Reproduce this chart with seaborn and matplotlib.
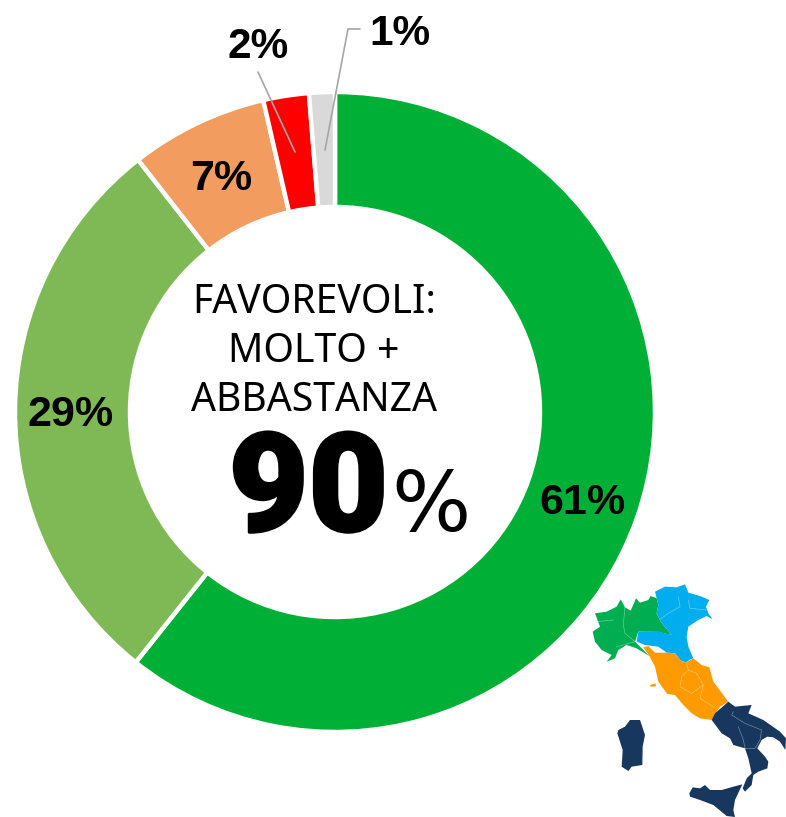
import matplotlib
matplotlib.use("Agg")
import matplotlib.pyplot as plt
import matplotlib.patheffects as pe
import numpy as np
import pandas as pd
import seaborn as sns

answers = ["Molto", "Abbastanza", "Poco", "Per niente", "Non sa"]
shares = [60.7, 28.75, 6.95, 2.3, 1.3]
labels = ["61%", "29%", "7%", "2%", "1%"]
slice_colors = ["#00B036", "#7FB956", "#F29C60", "#FF0000", "#D9D9D9"]

title_lines = ["FAVOREVOLI:", "MOLTO +", "ABBASTANZA"]
total_label = "90"

# map outlines, in pixels of the map box (3x)
nord_ovest = [(45, 130), (80, 125), (110, 110), (122, 88), (135, 112), (152, 122), (168, 85), (180, 98), (205, 90),
              (212, 78), (230, 85), (235, 105), (230, 130), (242, 155), (275, 195), (230, 185), (175, 185), (165, 215),
              (185, 235), (208, 258), (170, 235), (140, 225), (115, 240), (105, 265), (80, 275), (95, 255), (65, 240),
              (45, 215), (38, 185), (60, 170)]
nord_est = [(225, 65), (255, 50), (290, 52), (315, 43), (325, 68), (360, 78), (388, 90), (378, 110), (385, 130),
            (398, 148), (380, 138), (355, 150), (325, 170), (320, 200), (325, 230), (340, 265), (328, 270), (318, 278),
            (300, 270), (285, 250), (260, 248), (235, 230), (195, 225), (170, 215), (175, 185), (230, 183), (275, 195),
            (242, 155), (230, 130), (235, 105)]
centro = [(190, 232), (205, 228), (225, 248), (260, 248), (285, 250), (300, 270), (318, 278), (340, 265), (365, 285),
          (388, 292), (400, 335), (430, 375), (445, 395), (420, 410), (395, 450), (360, 445), (335, 430), (310, 405),
          (285, 375), (262, 372), (235, 335), (225, 290), (208, 258)]
elba = [(210, 345), (226, 340), (228, 349), (212, 350)]
sud = [(445, 395), (465, 410), (515, 405), (505, 430), (550, 450), (600, 485), (618, 505), (616, 540), (600, 515),
       (580, 502), (562, 500), (545, 510), (532, 535), (555, 560), (565, 575), (562, 595), (535, 605), (520, 615),
       (515, 645), (495, 665), (488, 655), (500, 625), (515, 610), (505, 565), (495, 535), (460, 525), (450, 505),
       (425, 490), (395, 450), (405, 430)]
sardegna = [(115, 480), (135, 470), (150, 450), (180, 450), (195, 495), (188, 530), (187, 585), (155, 590), (145, 603),
            (125, 590), (128, 540), (112, 490)]
sicilia = [(328, 670), (338, 652), (360, 655), (375, 645), (390, 660), (425, 660), (460, 650), (487, 643), (465, 690),
           (460, 720), (465, 741), (440, 738), (400, 705), (360, 690), (330, 680)]
map_areas = [(nord_ovest, "#00AD50"), (nord_est, "#00AEEF"), (centro, "#FF9B00"), (elba, "#FF9B00"),
             (sud, "#17375E"), (sardegna, "#17375E"), (sicilia, "#17375E")]
borders = [[(50, 155), (100, 150)], [(135, 110), (130, 165), (135, 190), (165, 215)], [(110, 230), (165, 215)],
           [(295, 80), (300, 110), (265, 130), (240, 148)], [(325, 90), (330, 115), (380, 120)],
           [(320, 280), (325, 300), (305, 320), (300, 350), (335, 370), (370, 345), (350, 310), (325, 300)],
           [(370, 345), (360, 385), (400, 410)], [(460, 425), (455, 435), (495, 460), (545, 480), (540, 510), (525, 535), (495, 535)],
           [(475, 470), (490, 510), (495, 535)]]

df = pd.DataFrame({"answer": answers, "share": shares, "label": labels})

sns.set_theme(style="white")
plt.rcParams["font.family"] = ["Liberation Sans", "DejaVu Sans"]

W, H = 786, 817
fig = plt.figure(figsize=(W / 100, H / 100), dpi=100)
ax = fig.add_axes([0, 0, 1, 1])

# Ring
cx, cy, R = 335, H - 412, 320
wedges, _ = ax.pie(df["share"], colors=slice_colors, startangle=90, counterclock=False, center=(cx, cy), radius=R,
                   frame=True, wedgeprops={"width": 115, "edgecolor": "white", "linewidth": 3.2})
ax.set_xlim(0, W)
ax.set_ylim(0, H)
ax.axis("off")

# Labels inside the big slices
for w, lab in list(zip(wedges, df["label"]))[:3]:
    mid = np.deg2rad((w.theta1 + w.theta2) / 2)
    ax.text(cx + 263 * np.cos(mid) - 1, cy + 263 * np.sin(mid) - 4, lab, ha="center", va="center",
            fontsize=31, fontweight="bold", color="black")

# Outside labels with leader lines
ax.text(258, H - 47, df["label"][3], ha="center", va="center", fontsize=30.5, fontweight="bold", color="black")
ax.text(400, H - 34, df["label"][4], ha="center", va="center", fontsize=30.5, fontweight="bold", color="black")
ax.plot([258, 295], [H - 72, H - 152], color="#A6A6A6", lw=1.2)
ax.plot([360, 348, 325], [H - 29, H - 29, H - 150], color="#A6A6A6", lw=1.2)

# Centre text
for y, line in zip([303, 352, 401], title_lines):
    ax.text(314, H - y, line, ha="center", va="center", fontsize=28.2, color="black", family="Noto Sans")
ax.text(308.5, H - 531, total_label, ha="center", va="baseline", fontsize=99, fontweight=900, color="black",
        family="Roboto", path_effects=[pe.withStroke(linewidth=2, foreground="black")])
ax.text(431, H - 531, "%", ha="center", va="baseline", fontsize=60, color="black", family="DejaVu Sans")

# Map
map_ax = fig.add_axes([580 / W, 0, 206 / W, 247 / H])
for pts, col in map_areas:
    map_ax.fill(*zip(*pts), color=col, lw=0)
for pts in borders:
    map_ax.plot(*zip(*pts), color="white", lw=0.5, alpha=0.4)
map_ax.set_xlim(0, 618)
map_ax.set_ylim(741, 0)
map_ax.axis("off")

fig.savefig("out.png", dpi=100, facecolor="white")
plt.close(fig)
